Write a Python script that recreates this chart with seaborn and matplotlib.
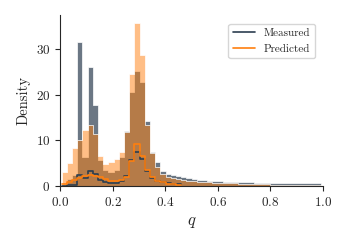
import numpy as np
import pandas as pd
import seaborn as sns
import matplotlib
matplotlib.use("Agg")
import matplotlib.pyplot as plt
from matplotlib.lines import Line2D

# 50 bins over the q range
bin_edges = np.linspace(0.006, 0.994, 51)
bin_mid = (bin_edges[:-1] + bin_edges[1:]) / 2

# density per bin
measured = [0.3, 1.5, 2.5, 31.5, 6.4, 26.0, 17.8, 5.8, 3.5, 3.0,
            3.5, 6.4, 12.1, 20.6, 25.2, 22.9, 14.3, 7.5, 5.3, 3.2,
            2.7, 2.4, 2.1, 1.9, 1.7, 1.5, 1.35, 1.25, 1.15, 1.05,
            1.0, 0.95, 0.9, 0.85, 0.82, 0.8, 0.78, 0.75, 0.72, 0.7,
            0.68, 0.67, 0.66, 0.65, 0.64, 0.63, 0.62, 0.61, 0.6, 0.6]
predicted = [3.0, 5.1, 8.3, 10.0, 12.3, 13.4, 11.5, 6.6, 4.8, 5.3,
             6.0, 7.5, 11.9, 24.6, 35.8, 28.7, 13.4, 7.3, 4.2, 2.6,
             2.0, 1.7, 1.5, 1.3, 1.15, 1.0, 0.9, 0.85, 0.8, 0.75,
             0.7, 0.65, 0.6, 0.55, 0.5, 0.47, 0.44, 0.4, 0.37, 0.34,
             0.3, 0.28, 0.26, 0.24, 0.22, 0.2, 0.18, 0.16, 0.14, 0.12]

# smaller step histograms (first 23 bins only)
measured_sub = [0.1, 0.2, 0.3, 2.4, 1.7, 3.2, 2.6, 1.3, 0.9, 0.7,
                0.6, 1.2, 2.2, 5.7, 7.4, 6.0, 3.2, 1.8, 1.2, 0.9,
                0.6, 0.5, 0.4]
predicted_sub = [0.4, 0.9, 1.4, 1.8, 2.3, 2.5, 2.3, 1.9, 1.5, 1.2,
                 1.0, 1.3, 2.0, 5.4, 9.2, 6.6, 3.5, 2.0, 1.2, 0.8,
                 0.5, 0.4, 0.3]

n_sub = len(measured_sub)
df = pd.DataFrame({"q": bin_mid, "measured": measured, "predicted": predicted})
df_sub = pd.DataFrame({"q": bin_mid[:n_sub], "measured": measured_sub,
                       "predicted": predicted_sub})
edges_all = list(bin_edges)
edges_sub = list(bin_edges[:n_sub + 1])

c_meas = "#2c3e50"
c_pred = "#ff7f0e"

sns.set_style("ticks")
plt.rcParams["font.family"] = "serif"
plt.rcParams["font.serif"] = ["cmr10", "DejaVu Serif"]
plt.rcParams["mathtext.fontset"] = "cm"
plt.rcParams["axes.formatter.use_mathtext"] = True

fig = plt.figure(figsize=(3.47, 2.47), dpi=100)
ax = fig.add_axes([0.173, 0.247, 0.758, 0.692])

sns.histplot(data=df, x="q", weights="measured", bins=edges_all, stat="count",
             element="step", color=c_meas, alpha=0.7, edgecolor="white",
             linewidth=0.5, ax=ax)
sns.histplot(data=df, x="q", weights="predicted", bins=edges_all, stat="count",
             element="step", color=c_pred, alpha=0.5, edgecolor="white",
             linewidth=0.5, ax=ax)

sns.histplot(data=df_sub, x="q", weights="measured", bins=edges_sub,
             stat="count", element="step", fill=False, color=c_meas,
             linewidth=1.2, ax=ax)
sns.histplot(data=df_sub, x="q", weights="predicted", bins=edges_sub,
             stat="count", element="step", fill=False, color=c_pred,
             linewidth=1.2, ax=ax)

ax.set_xlim(0, 1)
ax.set_ylim(0, 37.5)
ax.set_xticks([0, 0.2, 0.4, 0.6, 0.8, 1.0])
ax.set_yticks([0, 10, 20, 30])
ax.tick_params(labelsize=9.5, length=3.5, width=0.8)
ax.set_xlabel("$q$", fontsize=12)
ax.set_ylabel("Density", fontsize=10.5)
sns.despine(ax=ax)

handles = [Line2D([], [], color=c_meas, lw=1.2),
           Line2D([], [], color=c_pred, lw=1.2)]
ax.legend(handles, ["Measured", "Predicted"], loc="upper right",
          fontsize=8, frameon=True, handlelength=2.0,
          bbox_to_anchor=(0.99, 0.98))

fig.savefig("out.png", dpi=100)
